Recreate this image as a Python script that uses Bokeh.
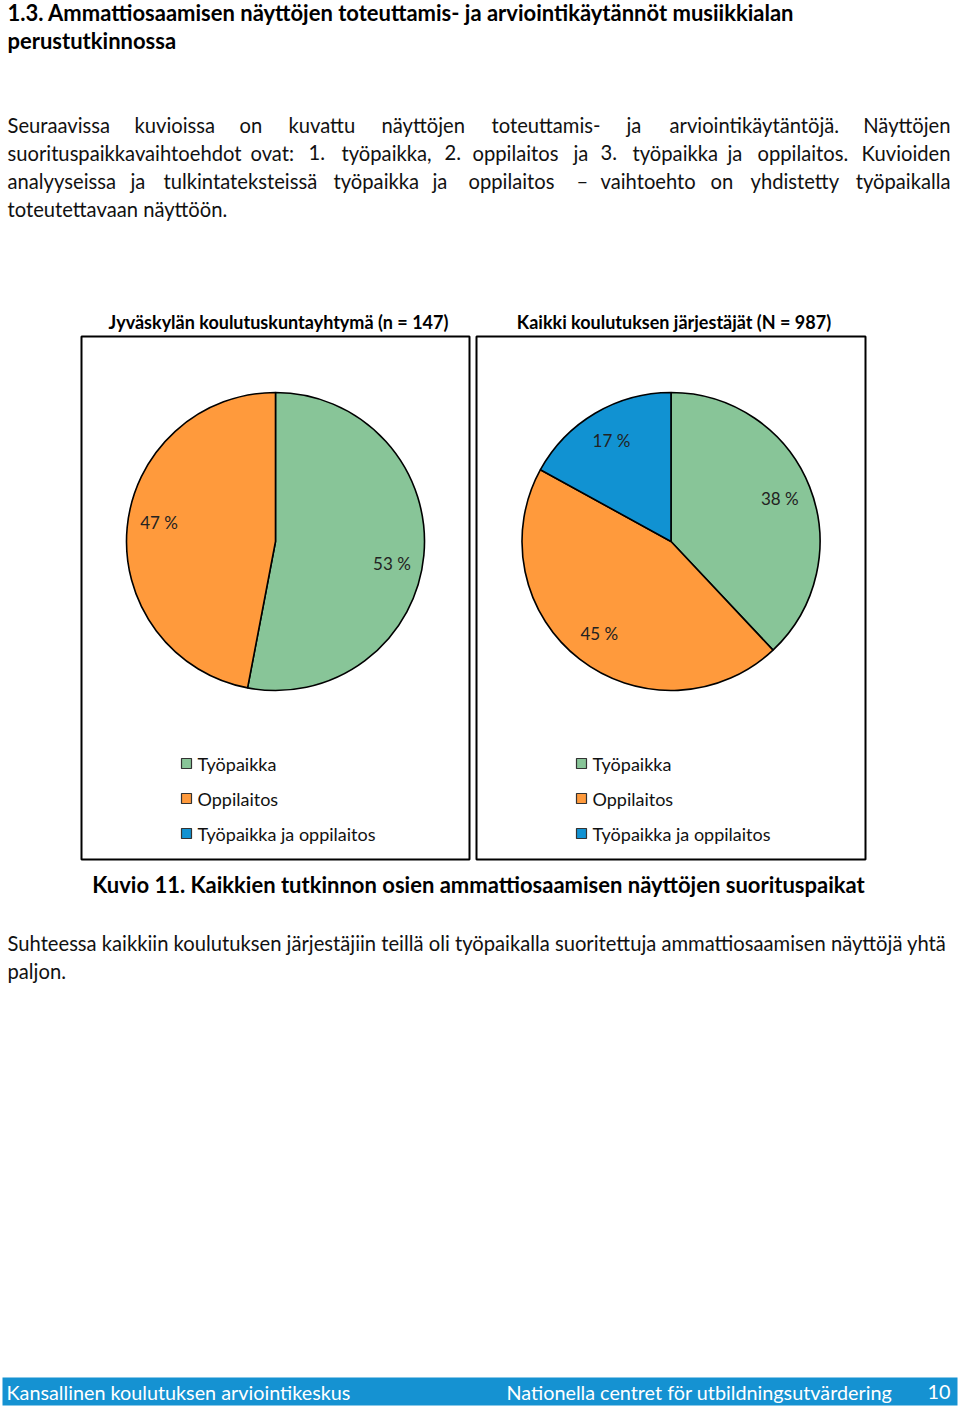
import math
from bokeh.plotting import figure
from bokeh.models import Range1d, ColumnDataSource
from bokeh.core.properties import value
from bokeh.embed import file_html
from bokeh.resources import INLINE

# ---------------- data ----------------
categories = ["Työpaikka", "Oppilaitos", "Työpaikka ja oppilaitos"]
jkky_values = [53, 47, 0]          # Jyväskylän koulutuskuntayhtymä (%)
all_values = [38, 45, 17]          # Kaikki koulutuksen järjestäjät (%)
slice_colors = ["#88C598", "#FF9A3C", "#1192D2"]
chart_titles = ["Jyväskylän koulutuskuntayhtymä (n = 147)",
                "Kaikki koulutuksen järjestäjät (N = 987)"]

heading = ["1.3. Ammattiosaamisen näyttöjen toteuttamis- ja arviointikäytännöt musiikkialan",
           "perustutkinnossa"]
para1 = [
    ["Seuraavissa", "kuvioissa", "on", "kuvattu", "näyttöjen", "toteuttamis-", "ja",
     "arviointikäytäntöjä.", "Näyttöjen"],
    ["suorituspaikkavaihtoehdot", "ovat:", "1.", "työpaikka,", "2.", "oppilaitos", "ja", "3.",
     "työpaikka", "ja", "oppilaitos.", "Kuvioiden"],
    ["analyyseissa", "ja", "tulkintateksteissä", "työpaikka", "ja", "oppilaitos", "–",
     "vaihtoehto", "on", "yhdistetty", "työpaikalla"],
]
para1_last = "toteutettavaan näyttöön."
caption = "Kuvio 11. Kaikkien tutkinnon osien ammattiosaamisen näyttöjen suorituspaikat"
para2 = ["Suhteessa kaikkiin koulutuksen järjestäjiin teillä oli työpaikalla suoritettuja ammattiosaamisen näyttöjä yhtä",
         "paljon."]
footer_left = "Kansallinen koulutuksen arviointikeskus"
footer_mid = "Nationella centret för utbildningsutvärdering"
footer_page = "10"

# ---------------- layout ----------------
W, H = 960, 1413
FONT = "Lato"
BODY = 20.2
RIGHT = 950
word_x = [
    [7, 134, 239, 288, 381, 491, 626, 669],
    [7, 250, 308, 341, 444, 472, 573, 600, 632, 727, 757],
    [7, 130, 163, 333, 432, 468, 576, 600, 710, 750],
]
line_y = [124, 152, 180]
label_dy = [[11, -8, 0], [0, 0, 0]]   # label nudges (px) per pie / slice


def Y(y):
    return H - y


p = figure(width=W, height=H, x_range=Range1d(0, W), y_range=Range1d(0, H),
           output_backend="svg", toolbar_location=None, min_border=0)
p.axis.visible = False
p.grid.visible = False
p.outline_line_color = None
p.background_fill_color = "white"
p.border_fill_color = "white"


def texts(xs, ys, ss, size, bold=False, color="#000000", align="left"):
    src = ColumnDataSource(dict(x=xs, y=[Y(v) for v in ys], t=ss))
    p.text(x="x", y="y", text="t", source=src, text_font=value(FONT),
           text_font_size=f"{size}px", text_font_style="bold" if bold else "normal",
           text_color=color, text_align=align, text_baseline="middle")


# heading
texts([7, 7], [12, 40], heading, 22, bold=True)

# justified paragraph: words placed at their positions, last word flush right
for words, xs, yy in zip(para1, word_x, line_y):
    texts(xs, [yy] * len(xs), words[:-1], BODY, color="#111111")
    texts([RIGHT], [yy], [words[-1]], BODY, color="#111111", align="right")
texts([7], [208], [para1_last], BODY, color="#111111")

# chart boxes
boxes = [(81, 469), (476, 865)]
for (l, r) in boxes:
    p.quad(left=l, right=r, top=Y(336), bottom=Y(859), fill_color=None,
           line_color="#000000", line_width=2)

# chart titles
texts([(l + r) / 2 + 3 for (l, r) in boxes], [321, 321], chart_titles, 18, bold=True, align="center")

# pies
R = 149
for (l, r), vals, dys in zip(boxes, [jkky_values, all_values], label_dy):
    cx, cy = (l + r) / 2, 541
    total = float(sum(vals))
    cum = 0.0
    starts, ends, cols, lx, ly, lt = [], [], [], [], [], []
    for v, c, dy in zip(vals, slice_colors, dys):
        if v <= 0:
            continue
        a0 = math.pi / 2 - 2 * math.pi * cum / total
        cum += v
        a1 = math.pi / 2 - 2 * math.pi * cum / total
        starts.append(a1)
        ends.append(a0)
        cols.append(c)
        mid = (a0 + a1) / 2
        lx.append(cx + 0.785 * R * math.cos(mid))
        ly.append(cy - 0.785 * R * math.sin(mid) + dy)
        lt.append(f"{v} %")
    src = ColumnDataSource(dict(x=[cx] * len(cols), y=[Y(cy)] * len(cols), s=starts, e=ends, c=cols))
    p.wedge(x="x", y="y", radius=R, start_angle="s", end_angle="e", fill_color="c",
            line_color="#000000", line_width=1.6, source=src)
    texts(lx, ly, lt, 17, color="#222222", align="center")

# legends
for (l, r) in boxes:
    sq_x = l + 105
    ys = [763, 798, 833]
    src = ColumnDataSource(dict(x=[sq_x] * 3, y=[Y(v) for v in ys], c=slice_colors))
    p.rect(x="x", y="y", width=10, height=10, fill_color="c", line_color="#333333",
           line_width=1.2, source=src)
    texts([sq_x + 11] * 3, ys, categories, 18, color="#111111")

# caption
texts([478], [884], [caption], 22, bold=True, align="center")

# second paragraph
texts([7, 7], [942, 970], para2, BODY, color="#111111")

# footer band
p.quad(left=2, right=957, top=Y(1377), bottom=Y(1405), fill_color="#1592D2", line_color=None)
texts([6, 506], [1391, 1391], [footer_left, footer_mid], 19.8, color="#FFFFFF")
texts([950], [1391], [footer_page], 19.8, color="#FFFFFF", align="right")

open("out.html", "w").write(file_html(p, INLINE))
